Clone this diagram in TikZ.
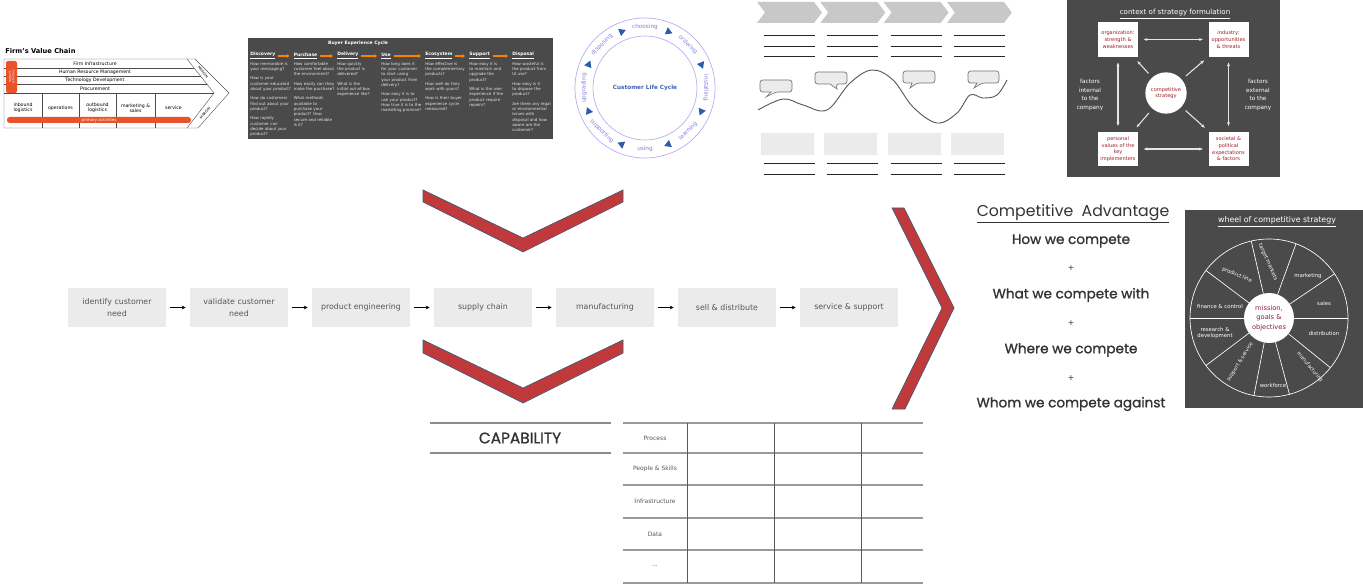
\documentclass[tikz,border=0pt]{standalone}
\usepackage{fontspec}
\setmainfont{DejaVu Sans}
\newfontfamily\popfont{Poppins}
\newfontfamily\popmed[BoldFont={Poppins}, BoldFeatures={FakeBold=1.2}]{Poppins}
\usepackage{tikz}
\usetikzlibrary{shapes, arrows.meta, positioning}
\hyphenpenalty=10000
\exhyphenpenalty=10000

\definecolor{chevred}{RGB}{192,57,59}
\definecolor{chevedge}{RGB}{62,90,122}
\definecolor{boxgray}{RGB}{235,235,235}
\definecolor{txtgray}{RGB}{85,85,85}
\definecolor{board}{RGB}{74,74,74}
\definecolor{vcorange}{RGB}{232,83,42}
\definecolor{cyc}{RGB}{178,170,242}
\definecolor{cyctxt}{RGB}{130,125,215}
\definecolor{cycblue}{RGB}{45,90,170}
\definecolor{chalkred}{RGB}{160,30,35}
\definecolor{wheelred}{RGB}{140,25,70}
\definecolor{jgray}{RGB}{200,200,200}

\begin{document}
\begin{tikzpicture}[
        x=0.75pt, y=-0.75pt,
        stage/.style={rectangle, fill=boxgray, text=txtgray, minimum width=73.5pt, minimum height=29.25pt, align=center, inner sep=0pt, font=\fontsize{5.9}{9}\selectfont},
        flow/.style={-{Stealth[length=3pt, width=2.8pt]}, line width=0.9pt, shorten <=3pt, shorten >=3pt},
        chev/.style={fill=chevred, draw=chevedge, line width=0.5pt},
        vcline/.style={draw=black!70, line width=0.3pt},
        vctext/.style={font=\fontsize{3.5}{4}\selectfont, align=center, inner sep=0pt},
        bxhead/.style={anchor=west, text=white, inner sep=0pt, font=\fontsize{3.4}{4}\selectfont\bfseries},
        bxarrow/.style={-{Triangle[length=2pt, width=2.8pt]}, draw=orange, line width=1.1pt, shorten <=2pt, shorten >=3pt},
        qcol/.style={anchor=north west, text=white!90!black, text width=31pt, align=left, inner sep=0pt, font=\fontsize{3.0}{4}\selectfont},
        cyclab/.style={text=cyctxt, inner sep=0pt, font=\fontsize{4.3}{5}\selectfont},
        cyctri/.style={isosceles triangle, isosceles triangle apex angle=60, fill=cycblue, inner sep=0pt, minimum height=5pt, minimum width=5pt},
        jline/.style={draw=black!85, line width=0.7pt},
        bubble/.style={fill=boxgray, draw=black!55, line width=0.5pt, rounded corners=2pt},
        ctxbox/.style={rectangle, fill=white, text=chalkred, minimum width=30pt, minimum height=26pt, align=center, inner sep=0.5pt, font=\fontsize{3.8}{5}\selectfont},
        chalk/.style={text=white, align=center, inner sep=0pt, font=\fontsize{4.3}{6.4}\selectfont},
        chalkarrow/.style={draw=white!90!black, line width=0.8pt, shorten <=4pt, shorten >=4pt},
        wlab/.style={text=white, align=center, inner sep=0pt, font=\fontsize{4}{5}\selectfont},
        adv/.style={text=black!80, inner sep=0pt, font=\popmed\bfseries\fontsize{10.2}{12}\selectfont},
        plus/.style={text=black!70, inner sep=0pt, font=\popfont\fontsize{7}{8}\selectfont},
        rowlab/.style={text=txtgray, inner sep=0pt, font=\fontsize{4.5}{5}\selectfont}
    ]
        \useasboundingbox (0,0) rectangle (1363,584);

        % Value chain
        \node[anchor=west, inner sep=0pt, font=\fontsize{5}{6}\selectfont\bfseries] (vctitle) at (5,51) {Firm's Value Chain};
        \draw[vcline] (4,59) -- (195,59) -- (229,93) -- (198,128) -- (4,128) -- cycle;
        \draw[vcline] (187,59) -- (214,93) -- (187,128);
        \draw[vcline] (4,68) -- (194,68) (4,76) -- (200.5,76) (4,84) -- (207,84) (4,93) -- (214,93);
        \draw[vcline] (42,93) -- (42,128) (79,93) -- (79,128) (116,93) -- (116,128) (155,93) -- (155,128);
        \node[vctext] (infra) at (95,63.5) {Firm Infrastructure};
        \node[vctext] (hrm) at (95,72) {Human Resource Management};
        \node[vctext] (tech) at (95,80) {Technology Development};
        \node[vctext] (proc) at (95,88.5) {Procurement};
        \fill[vcorange, rounded corners=1.5pt] (6,61) rectangle (17,93);
        \node[vctext, text=white, rotate=90, font=\fontsize{2.3}{2.7}\selectfont] (suppact) at (11.5,77) {support\\activities};
        \node[vctext] (inb) at (23,108) {inbound\\logistics};
        \node[vctext] (ops) at (60.5,108) {operations};
        \node[vctext] (outb) at (97.5,108) {outbound\\logistics};
        \node[vctext] (mks) at (135.5,108) {marketing \&\\sales};
        \node[vctext] (serv0) at (173.5,108) {service};
        \fill[vcorange, rounded corners=2pt] (7,117) rectangle (191,123);
        \node[vctext, text=white, font=\fontsize{3}{3.5}\selectfont] (primact) at (99,120) {primary activities};
        \node[vctext, rotate=-51.5, font=\fontsize{2.6}{3}\selectfont] (marg1) at (203,72) {MARGIN};
        \node[vctext, rotate=49, font=\fontsize{2.6}{3}\selectfont] (marg2) at (205,113) {MARGIN};

        % Buyer experience cycle
        \fill[board] (248,38) rectangle (553,139);
        \node[bxhead, anchor=center] (bxtitle) at (358,43.5) {Buyer Experience Cycle};
        \node[bxhead] (hdisc) at (250,56) {\underline{Discovery}};
        \node[bxhead] (hpur) at (293.5,56) {\underline{Purchase}};
        \node[bxhead] (hdel) at (337,56) {\underline{Delivery}};
        \node[bxhead] (huse) at (381,56) {\underline{Use}};
        \node[bxhead] (heco) at (425,56) {\underline{Ecosystem}};
        \node[bxhead] (hsup) at (469,56) {\underline{Support}};
        \node[bxhead] (hdis) at (512,56) {\underline{Disposal}};
        \draw[bxarrow] (hdisc) -- (hpur);
        \draw[bxarrow] (hpur) -- (hdel);
        \draw[bxarrow] (hdel) -- (huse);
        \draw[bxarrow] (huse) -- (heco);
        \draw[bxarrow] (heco) -- (hsup);
        \draw[bxarrow] (hsup) -- (hdis);
        \node[qcol] (qdisc) at (250,62) {How memorable is your messaging?\\[3pt]How is your customer educated about your product?\\[3pt]How do customers find out about your product?\\[3pt]How rapidly customer can decide about your product?};
        \node[qcol] (qpur) at (293.5,62) {How comfortable customer feel about the environment?\\[3pt]How easily can they make the purchase?\\[3pt]What methods available to purchase your product? How secure and reliable is it?};
        \node[qcol] (qdel) at (337,62) {How quickly the product is delivered?\\[3pt]What is the initial out-of-box experience like?};
        \node[qcol] (quse) at (381,62) {How long does it for your customer to start using your product from delivery?\\[3pt]How easy it is to use your product? How true it is to the marketing promise?};
        \node[qcol] (qeco) at (425,62) {How effective is the complementary products?\\[3pt]How well do they work with yours?\\[3pt]How is their buyer experience cycle measured?};
        \node[qcol] (qsup) at (469,62) {How easy it is to maintain and upgrade the product?\\[3pt]What is the user experience if the product require repairs?};
        \node[qcol, text width=29pt] (qdis) at (512,62) {How wasteful is the product from UI use?\\[3pt]How easy is it to dispose the product?\\[3pt]Are there any legal or environmental issues with disposal and how aware are the customer?};

        % Customer life cycle
        \begin{scope}[shift={(645,88)}, yscale=-1]
            \draw[cyc, line width=0.5pt] (0,0) circle (70) (0,0) circle (52);
            \node[cyclab, text=cycblue!80!cyctxt, font=\fontsize{4.3}{5}\selectfont\bfseries] (clc) at (0,0) {Customer Life Cycle};
            \foreach \ang/\rot/\lab in {90/0/choosing, 45/-45/ordering, 0/-90/installing, -45/45/learning, -90/0/using, -135/-45/supporting, 180/90/upgrading, 135/45/disposing}
                \node[cyclab, rotate=\rot] (cyc-\lab) at (\ang:61) {\lab};
            \foreach \ang [count=\t] in {67.5, 22.5, -22.5, -67.5, -112.5, -157.5, 157.5, 112.5}
                \node[cyctri, rotate=\ang-90] (cyctri\t) at (\ang:61) {};
        \end{scope}

        % Customer journey
        \foreach \i in {0,...,3} {
            \pgfmathsetmacro\xo{757+63.3*\i}
            \fill[jgray] (\xo,2) -- ++(57,0) -- ++(8,10.5) -- ++(-8,10.5) -- ++(-57,0) -- ++(8,-10.5) -- cycle;
            \draw[jline] (\xo+7,35) -- ++(51,0) (\xo+7,46) -- ++(51,0) (\xo+7,56) -- ++(51,0);
            \fill[boxgray] (\xo+4,133) rectangle (\xo+57,155);
            \draw[jline] (\xo+7,163) -- ++(51,0) (\xo+7,174) -- ++(51,0);
        }
        \draw[black!65, line width=0.7pt] plot[smooth, tension=0.6] coordinates {(758,110) (783,99) (803,105) (827,110) (850,83) (872,70) (893,80) (913,107) (937,123) (957,113) (970,95) (983,98) (997,95) (1007,80)};
        \draw[bubble] (760,80) -- (792,80) -- (792,92) -- (776,92) [sharp corners] -- (766,97) -- (771,92) [rounded corners=2pt] -- (760,92) -- cycle;
        \draw[bubble] (815,72) -- (847,72) -- (847,84) -- (836,84) [sharp corners] -- (837,89) -- (830,84) [rounded corners=2pt] -- (815,84) -- cycle;
        \draw[bubble] (903,71) -- (935,71) -- (935,83) -- (917,83) [sharp corners] -- (910,88) -- (912,83) [rounded corners=2pt] -- (903,83) -- cycle;
        \draw[bubble] (968,71) -- (999,71) -- (999,83) -- (982,83) [sharp corners] -- (974,88) -- (977,83) [rounded corners=2pt] -- (968,83) -- cycle;

        % Context of strategy formulation
        \fill[board] (1067,0) rectangle (1280,177);
        \node[chalk, font=\fontsize{5.3}{6}\selectfont] (ctxtitle) at (1175,14) {\underline{context of strategy formulation}};
        \node[ctxbox] (org) at (1118,39.5) {organization:\\strength \&\\weaknesses};
        \node[ctxbox] (ind) at (1228.5,39.5) {industry:\\opportunities\\\& threats};
        \node[ctxbox] (pers) at (1118,149) {personal\\values of the\\key\\implementers};
        \node[ctxbox] (soc) at (1228.5,149) {societal \&\\political\\expectations\\\& factors};
        \node[circle, fill=white, text=chalkred, minimum size=31pt, align=center, inner sep=0pt, font=\fontsize{3.8}{5}\selectfont] (comp) at (1166,93) {competitive\\strategy};
        \node[chalk] (intl) at (1090,95) {factors\\internal\\to the\\company};
        \node[chalk] (extl) at (1258,95) {factors\\external\\to the\\company};
        \draw[chalkarrow, {Stealth[length=3pt]}-{Stealth[length=3pt]}] (org) -- (ind);
        \draw[chalkarrow, {Stealth[length=3pt]}-{Stealth[length=3pt]}] (pers) -- (soc);
        \draw[chalkarrow, {Stealth[length=3pt]}-{Stealth[length=3pt]}] (org) -- (pers);
        \draw[chalkarrow, {Stealth[length=3pt]}-{Stealth[length=3pt]}] (ind) -- (soc);
        \draw[chalkarrow, -{Stealth[length=3pt]}] (comp) -- (org);
        \draw[chalkarrow, -{Stealth[length=3pt]}] (comp) -- (ind);
        \draw[chalkarrow, -{Stealth[length=3pt]}] (comp) -- (pers);
        \draw[chalkarrow, -{Stealth[length=3pt]}] (comp) -- (soc);

        % Red chevrons
        \draw[chev] (423,190) -- (523,238) -- (623,190) -- (623,202) -- (523,252) -- (423,202) -- cycle;
        \draw[chev] (423,340) -- (523,388) -- (623,340) -- (623,353) -- (523,403) -- (423,353) -- cycle;
        \draw[chev] (892,208) -- (904,208) -- (954,308) -- (905,409) -- (892,409) -- (942,308) -- cycle;

        % Value stream
        \node[stage] (need) at (117,307.5) {identify customer\\need};
        \node[stage] (valid) at (239,307.5) {validate customer\\need};
        \node[stage] (eng) at (361,307.5) {product engineering};
        \node[stage] (supply) at (483,307.5) {supply chain};
        \node[stage] (manu) at (605,307.5) {manufacturing};
        \node[stage] (sell) at (727,307.5) {sell \& distribute};
        \node[stage] (service) at (849,307.5) {service \& support};
        \draw[flow] (need) -- (valid);
        \draw[flow] (valid) -- (eng);
        \draw[flow] (eng) -- (supply);
        \draw[flow] (supply) -- (manu);
        \draw[flow] (manu) -- (sell);
        \draw[flow] (sell) -- (service);

        % Competitive advantage
        \node[adv, font=\popfont\fontsize{11.8}{13}\selectfont] (advtitle) at (1073,214) {\underline{Competitive\ \ Advantage}};
        \node[adv] (how) at (1071,241) {How we compete};
        \node[plus] (plus1) at (1071,269) {+};
        \node[adv] (what) at (1071,295) {What we compete with};
        \node[plus] (plus2) at (1071,324) {+};
        \node[adv] (where) at (1071,350) {Where we compete};
        \node[plus] (plus3) at (1071,379) {+};
        \node[adv] (whom) at (1071,404) {Whom we compete against};

        % Wheel of competitive strategy
        \fill[board] (1185,210) rectangle (1363,408);
        \node[chalk, font=\fontsize{5.9}{7}\selectfont] (wheeltitle) at (1277,222) {\underline{wheel of competitive strategy}};
        \begin{scope}[shift={(1269,318)}, yscale=-1]
            \draw[white, line width=0.5pt] (0,0) circle (79);
            \foreach \a in {103,70,34,0,-39,-75,-101,-143,180,143}
                \draw[white, line width=0.5pt] (\a:25) -- (\a:79);
            \fill[white] (0,0) circle (25);
        \end{scope}
        \node[wlab, text=wheelred, font=\fontsize{5}{7}\selectfont] (core) at (1269,318) {mission,\\goals \&\\objectives};
        \node[wlab, rotate=-66] (tgt) at (1268,262) {target markets};
        \node[wlab] (mkt) at (1308,276) {marketing};
        \node[wlab] (sal) at (1324,304) {sales};
        \node[wlab] (dist) at (1324,334) {distribution};
        \node[wlab, rotate=-50, font=\fontsize{3.8}{5}\selectfont] (manuw) at (1310,367) {manufacturing};
        \node[wlab] (work) at (1273,386) {workforce};
        \node[wlab, rotate=58, font=\fontsize{3.8}{5}\selectfont] (supp) at (1240,362) {support \& service};
        \node[wlab] (rnd) at (1215,333) {research \&\\development};
        \node[wlab] (fin) at (1220,307) {finance \& control};
        \node[wlab, rotate=-23] (prod) at (1237,275) {product line};

        % Capability
        \draw[black!45, line width=0.8pt] (430,423) -- (611,423) (430,453) -- (611,453);
        \node[adv, font=\popmed\bfseries\fontsize{11.5}{13}\selectfont] (cap) at (520,438) {CAPABILITY};
        \draw[black!40, line width=0.9pt] (623,423) -- (923,423) (623,453) -- (923,453) (623,485) -- (923,485) (623,518) -- (923,518) (623,550) -- (923,550) (623,583) -- (923,583);
        \draw[black!65, line width=0.7pt] (687,423) -- (687,583) (774,423) -- (774,583) (861,423) -- (861,583);
        \node[rowlab] (rproc) at (655,438) {Process};
        \node[rowlab] (rpeop) at (655,469) {People \& Skills};
        \node[rowlab] (rinfra) at (655,501.5) {Infrastructure};
        \node[rowlab] (rdata) at (655,534) {Data};
        \node[rowlab] (rmore) at (655,566.5) {...};
    \end{tikzpicture}
\end{document}
